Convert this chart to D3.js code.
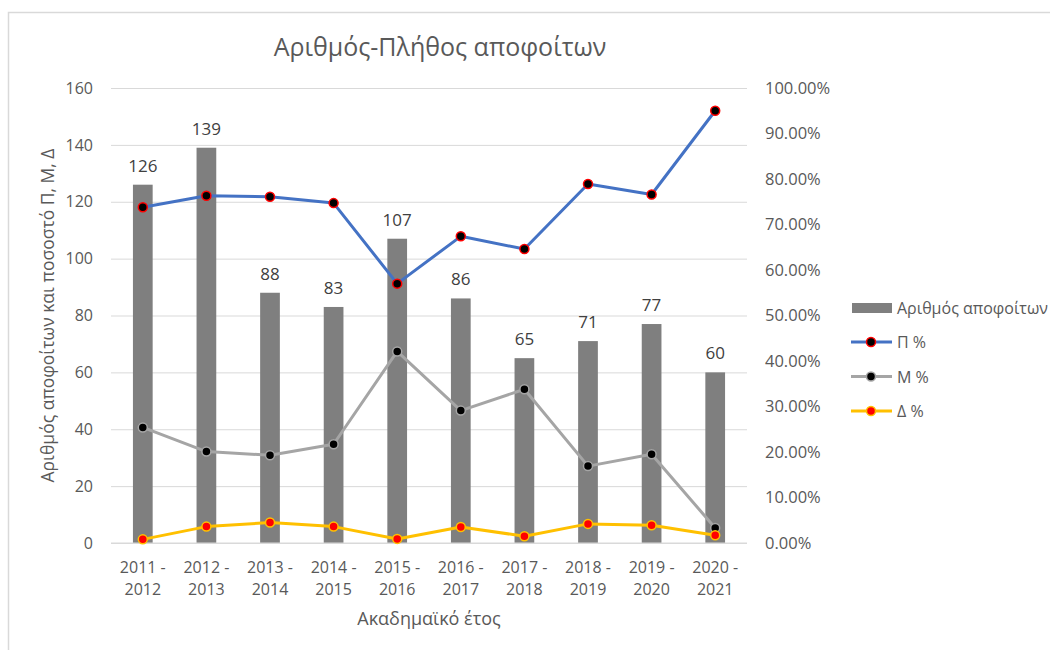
<!DOCTYPE html>
<html>
<head>
<meta charset="utf-8">
<script src="https://cdn.jsdelivr.net/npm/d3@7"></script>
<style>
  body { margin: 0; background: #fff; }
  svg text { font-family: "Open Sans", "Noto Sans", sans-serif; }
</style>
</head>
<body>
<svg id="chart" width="1050" height="650"></svg>
<script>
const years = ['2011 - 2012', '2012 - 2013', '2013 - 2014', '2014 - 2015', '2015 - 2016',
  '2016 - 2017', '2017 - 2018', '2018 - 2019', '2019 - 2020', '2020 - 2021'];
const graduates = [126, 139, 88, 83, 107, 86, 65, 71, 77, 60];
const pPct = [73.8, 76.3, 76.1, 74.7, 57.0, 67.4, 64.6, 78.9, 76.6, 95.0];
const mPct = [25.4, 20.1, 19.3, 21.7, 42.1, 29.1, 33.8, 16.9, 19.5, 3.3];
const dPct = [0.8, 3.6, 4.5, 3.6, 0.9, 3.5, 1.5, 4.2, 3.9, 1.7];
const leftTicks = [0, 20, 40, 60, 80, 100, 120, 140, 160];
const rightTicks = [0, 10, 20, 30, 40, 50, 60, 70, 80, 90, 100];

const svg = d3.select('#chart');

// chart frame
svg.append('rect')
  .attr('x', 8.5).attr('y', 12.5)
  .attr('width', 1100).attr('height', 700)
  .attr('fill', 'none')
  .attr('stroke', '#d9d9d9')
  .attr('stroke-width', 1.5);

const plotL = 111, plotR = 747, plotT = 88, plotB = 543;

const x = d3.scaleBand().domain(years).range([plotL, plotR])
  .paddingInner(0.69).paddingOuter(0.345);
const xc = d3.scalePoint().domain(years).range([plotL, plotR]).padding(0.5);
const yL = d3.scaleLinear().domain([0, 160]).range([plotB, plotT]);
const yR = d3.scaleLinear().domain([0, 100]).range([plotB, plotT]);

// gridlines
svg.append('g')
  .attr('transform', `translate(${plotL},0)`)
  .call(d3.axisLeft(yL).tickValues(leftTicks).tickSize(-(plotR - plotL)).tickFormat(''))
  .call(g => g.select('.domain').remove())
  .call(g => g.selectAll('line').attr('stroke', '#d9d9d9').attr('stroke-width', 1));

// left axis labels
svg.append('g')
  .attr('transform', `translate(${plotL},0)`)
  .call(d3.axisLeft(yL).tickValues(leftTicks).tickSize(0).tickPadding(18))
  .call(g => g.select('.domain').remove())
  .call(g => g.selectAll('text').attr('fill', '#595959').style('font-size', '16px'));

// right axis labels
svg.append('g')
  .attr('transform', `translate(${plotR},0)`)
  .call(d3.axisRight(yR).tickValues(rightTicks).tickSize(0).tickPadding(18)
    .tickFormat(d => d.toFixed(2) + '%'))
  .call(g => g.select('.domain').remove())
  .call(g => g.selectAll('text').attr('fill', '#595959').style('font-size', '16.5px'));

// bars
svg.append('g').selectAll('rect')
  .data(graduates)
  .join('rect')
  .attr('x', (d, i) => x(years[i]))
  .attr('y', d => yL(d))
  .attr('width', x.bandwidth())
  .attr('height', d => plotB - yL(d))
  .attr('fill', '#7f7f7f');

// bar labels
svg.append('g').selectAll('text')
  .data(graduates)
  .join('text')
  .attr('x', (d, i) => xc(years[i]))
  .attr('y', d => yL(d) - 13)
  .attr('text-anchor', 'middle')
  .attr('fill', '#404040')
  .style('font-size', '17px')
  .text(d => d);

// x axis baseline
svg.append('line')
  .attr('x1', plotL).attr('x2', plotR)
  .attr('y1', plotB).attr('y2', plotB)
  .attr('stroke', '#d9d9d9').attr('stroke-width', 1.2);

// x tick labels (two lines)
const xt = svg.append('g').selectAll('text')
  .data(years)
  .join('text')
  .attr('x', d => xc(d))
  .attr('y', 573)
  .attr('text-anchor', 'middle')
  .attr('fill', '#595959')
  .style('font-size', '16px');
xt.append('tspan').attr('x', d => xc(d)).text(d => d.split(' - ')[0] + ' -');
xt.append('tspan').attr('x', d => xc(d)).attr('dy', 22).text(d => d.split(' - ')[1]);

const series = [
  { name: 'Π %', values: pPct, line: '#4472c4', fill: '#000000', stroke: '#ff0000' },
  { name: 'M %', values: mPct, line: '#a5a5a5', fill: '#000000', stroke: '#a5a5a5' },
  { name: 'Δ %', values: dPct, line: '#ffc000', fill: '#ff0000', stroke: '#ffc000' }
];

const line = d3.line()
  .x((d, i) => xc(years[i]))
  .y(d => yR(d));

series.forEach(s => {
  svg.append('path')
    .datum(s.values)
    .attr('d', line)
    .attr('fill', 'none')
    .attr('stroke', s.line)
    .attr('stroke-width', 3)
    .attr('stroke-linejoin', 'round');
  svg.append('g').selectAll('circle')
    .data(s.values)
    .join('circle')
    .attr('cx', (d, i) => xc(years[i]))
    .attr('cy', d => yR(d))
    .attr('r', 4.5)
    .attr('fill', s.fill)
    .attr('stroke', s.stroke)
    .attr('stroke-width', 1.5);
});

// title
svg.append('text')
  .attr('x', 440).attr('y', 56)
  .attr('text-anchor', 'middle')
  .attr('fill', '#595959')
  .style('font-size', '25px')
  .text('Αριθμός-Πλήθος αποφοίτων');

// axis titles
svg.append('text')
  .attr('transform', `translate(54, ${(plotT + plotB) / 2}) rotate(-90)`)
  .attr('text-anchor', 'middle')
  .attr('fill', '#595959')
  .style('font-size', '17.5px')
  .text('Αριθμός αποφοίτων και ποσοστό Π, Μ, Δ');

svg.append('text')
  .attr('x', 429).attr('y', 625)
  .attr('text-anchor', 'middle')
  .attr('fill', '#595959')
  .style('font-size', '18px')
  .text('Ακαδημαϊκό έτος');

// legend
const lg = svg.append('g');
lg.append('rect')
  .attr('x', 852).attr('y', 303).attr('width', 40).attr('height', 10)
  .attr('fill', '#7f7f7f');
lg.append('text')
  .attr('x', 897).attr('y', 314)
  .attr('fill', '#595959').style('font-size', '16px')
  .text('Αριθμός αποφοίτων');
series.forEach((s, i) => {
  const yy = 342 + i * 34.5;
  lg.append('line')
    .attr('x1', 851).attr('x2', 892).attr('y1', yy).attr('y2', yy)
    .attr('stroke', s.line).attr('stroke-width', 3);
  lg.append('circle')
    .attr('cx', 871).attr('cy', yy).attr('r', 4.5)
    .attr('fill', s.fill).attr('stroke', s.stroke).attr('stroke-width', 1.5);
  lg.append('text')
    .attr('x', 897).attr('y', yy + 6)
    .attr('fill', '#595959').style('font-size', '16px')
    .text(s.name);
});
</script>
</body>
</html>
